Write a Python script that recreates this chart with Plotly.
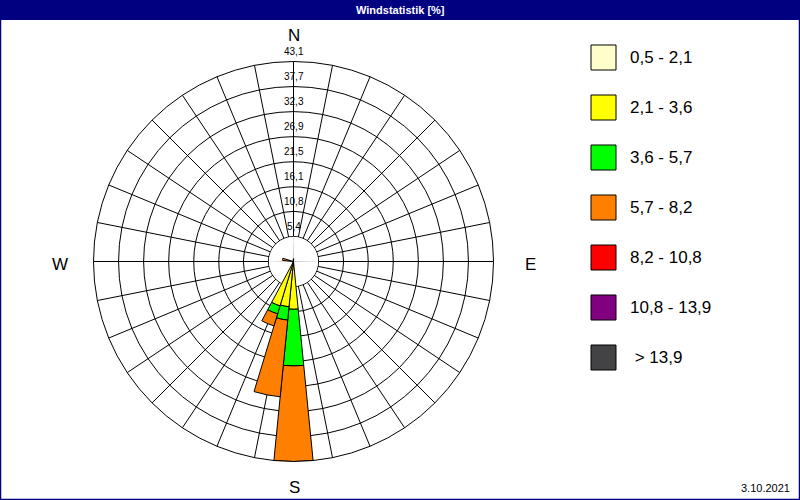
import plotly.graph_objects as go

# ---------------- data ----------------
directions = [0, 180, 191.25, 202.5, 281.25]          # sector centres [deg]
class_labels = ["0,5 - 2,1", "2,1 - 3,6", "3,6 - 5,7", "5,7 - 8,2",
                "8,2 - 10,8", "10,8 - 13,9", "\u00a0> 13,9"]
class_colors = ["#FFFFCC", "#FFFF00", "#00FF00", "#FF8000",
                "#FF0000", "#800080", "#434346"]
# frequency [%] per speed class, per direction (stacked)
f_05_21 = [0.6, 0.8, 0.8, 0.7, 0.4]
f_21_36 = [0.0, 9.5, 9.0, 9.3, 0.3]
f_36_57 = [0.0, 12.2, 2.9, 1.8, 0.3]
f_57_82 = [0.0, 20.6, 16.6, 2.7, 1.4]
f_82_108 = [0.0, 0.0, 0.0, 0.0, 0.0]
f_108_139 = [0.0, 0.0, 0.0, 0.0, 0.0]
f_139 = [0.0, 0.0, 0.0, 0.0, 0.0]
class_values = [f_05_21, f_21_36, f_36_57, f_57_82, f_82_108, f_108_139, f_139]

ring_ticks = [5.4, 10.8, 16.1, 21.5, 26.9, 32.3, 37.7, 43.1]
ring_labels = ["5,4", "10,8", "16,1", "21,5", "26,9", "32,3", "37,7", "43,1"]
compass = ["N", "E", "S", "W"]
title_text = "Windstatistik [%]"
date_text = "3.10.2021"

# ---------------- layout helpers ----------------
W, H = 800, 500
CX, CY, R = 293.5, 261.5, 200.0
RMAX = ring_ticks[-1]
FONT = "Liberation Sans, Arial, sans-serif"


def px(x):
    return x / W


def py(y):
    return 1 - y / H


fig = go.Figure()

# white centre disk hiding the grid inside the first ring
fig.add_trace(go.Barpolar(r=[ring_ticks[0] * 0.985] * 4, theta=[45, 135, 225, 315],
                          width=[91] * 4, marker=dict(color="white", line=dict(width=0)),
                          hoverinfo="skip", showlegend=False))

for lab, col, vals in zip(class_labels, class_colors, class_values):
    fig.add_trace(go.Barpolar(r=vals, theta=directions, width=[11.25] * len(directions),
                              name=lab, marker=dict(color=col, line=dict(color="black", width=1)),
                              showlegend=False))

shapes = []
annotations = []

# title bar and frame
shapes.append(dict(type="rect", xref="paper", yref="paper", x0=0, x1=1, y0=py(20), y1=1,
                   fillcolor="#000080", line=dict(width=0), layer="below"))
shapes.append(dict(type="rect", xref="paper", yref="paper", x0=px(0.5), x1=px(799.5),
                   y0=py(499.5), y1=py(0.5), line=dict(color="#000080", width=1.5)))
annotations.append(dict(text="<b>" + title_text + "</b>", x=0.5, y=py(10), xref="paper", yref="paper",
                        showarrow=False, font=dict(color="white", size=11, family=FONT),
                        xanchor="center", yanchor="middle"))

# ring labels along the north spoke
for v, t in zip(ring_ticks, ring_labels):
    ypix = CY - v / RMAX * R - 10
    annotations.append(dict(text=t, x=px(CX), y=py(ypix), xref="paper", yref="paper",
                            showarrow=False, font=dict(color="black", size=10, family=FONT),
                            xanchor="center", yanchor="middle"))

# compass letters
comp_pos = {"N": (294, 36), "E": (530, 264), "S": (294, 487), "W": (60, 264)}
for c in compass:
    x, y = comp_pos[c]
    annotations.append(dict(text=c, x=px(x), y=py(y), xref="paper", yref="paper",
                            showarrow=False, font=dict(color="black", size=17, family=FONT),
                            xanchor="center", yanchor="middle"))

# legend
for i, (lab, col) in enumerate(zip(class_labels, class_colors)):
    y0 = 45 + 50 * i
    shapes.append(dict(type="rect", xref="paper", yref="paper", x0=px(591), x1=px(616),
                       y0=py(y0 + 25), y1=py(y0), fillcolor=col,
                       line=dict(color="black", width=1)))
    annotations.append(dict(text=lab, x=px(628), y=py(y0 + 12.5), xref="paper", yref="paper",
                            showarrow=False, font=dict(color="black", size=17, family=FONT),
                            xanchor="left", yanchor="middle"))

annotations.append(dict(text=date_text, x=px(792), y=py(488), xref="paper", yref="paper",
                        showarrow=False, font=dict(color="black", size=11, family=FONT),
                        xanchor="right", yanchor="middle"))

fig.update_layout(
    width=W, height=H,
    margin=dict(l=0, r=0, t=0, b=0),
    paper_bgcolor="white",
    showlegend=False,
    shapes=shapes,
    annotations=annotations,
    polar=dict(
        domain=dict(x=[px(CX - R), px(CX + R)], y=[py(CY + R), py(CY - R)]),
        bgcolor="white",
        barmode="stack",
        radialaxis=dict(range=[0, RMAX], tickvals=ring_ticks, showticklabels=False,
                        ticks="", showline=False, gridcolor="black", gridwidth=1),
        angularaxis=dict(rotation=90, direction="clockwise", tickmode="linear",
                         tick0=0, dtick=11.25, showticklabels=False, ticks="",
                         showgrid=True, gridcolor="black", gridwidth=1,
                         showline=True, linecolor="black", linewidth=1),
    ),
)

fig.write_html("out.html", config={"displayModeBar": False},
               post_script="document.body.style.margin='0';document.body.style.overflow='hidden';")
